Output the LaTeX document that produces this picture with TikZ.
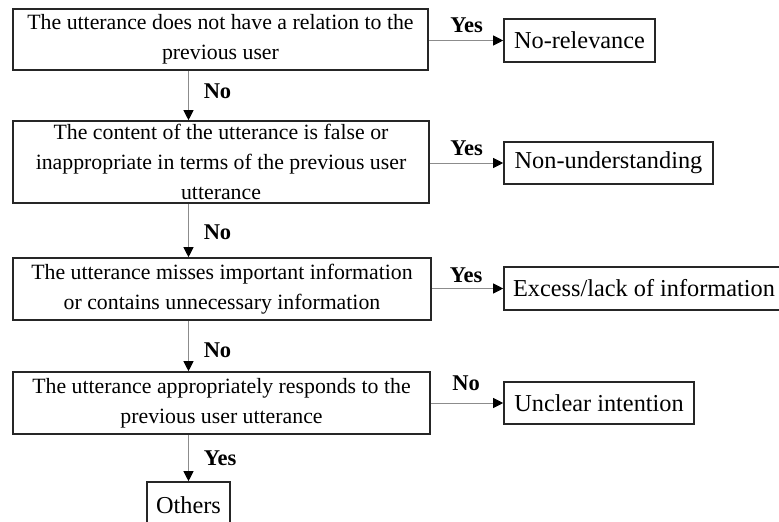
\documentclass[tikz,border=0pt]{standalone}
\usepackage{fontspec}
\setmainfont{Liberation Serif}
\usetikzlibrary{arrows.meta}
\begin{document}
\begin{tikzpicture}[x=1pt,y=-1pt,
  cond/.style={draw=black!85, line width=1.6pt, fill=white, inner sep=0pt,
    align=center, font=\fontsize{21.8}{30}\selectfont},
  result/.style={draw=black!85, line width=1.6pt, fill=white, inner sep=0pt,
    font=\fontsize{24.3}{29}\selectfont},
  lbl/.style={inner sep=0pt, font=\fontsize{22.5}{26}\selectfont\bfseries},
  arr/.style={draw=black!45, line width=1pt,
    -{Triangle[length=10pt,width=10pt,color=black]}}
]
\useasboundingbox (0,0) rectangle (779,522);
\clip (0,0) rectangle (779,522);

% decision boxes
\node[cond, minimum width=415pt, minimum height=61pt] (b1) at (220.5,39.5)
  {The utterance does not have a relation to the\\previous user};
\node[cond, minimum width=416pt, minimum height=82pt] (b2) at (221,162)
  {The content of the utterance is false or\\inappropriate in terms of the previous user\\utterance};
\node[cond, minimum width=418pt, minimum height=62pt] (b3) at (222,289)
  {The utterance misses important information\\or contains unnecessary information};
\node[cond, minimum width=417pt, minimum height=62pt] (b4) at (221.5,403)
  {The utterance appropriately responds to the\\previous user utterance};

% outcome boxes
\node[result, minimum width=151pt, minimum height=43pt] (r1) at (579.5,40.5) {No-relevance};
\node[result, minimum width=209pt, minimum height=42pt] (r2) at (608.5,163) {Non-understanding};
\node[result, minimum width=280pt, minimum height=43pt] (r3) at (644,288.5) {Excess/lack of information};
\node[result, minimum width=190pt, minimum height=42pt] (r4) at (599,403) {Unclear intention};
\node[result, minimum width=83pt, minimum height=46pt] (o) at (188.5,505) {Others};

% vertical flow
\draw[arr] (b1.south -| o.north) -- (b2.north -| o.north);
\draw[arr] (b2.south -| o.north) -- (b3.north -| o.north);
\draw[arr] (b3.south -| o.north) -- (b4.north -| o.north);
\draw[arr] (b4.south -| o.north) -- (o.north);

% horizontal branches
\draw[arr] (b1.east |- r1.west) -- (r1.west);
\draw[arr] (b2.east |- r2.west) -- (r2.west);
\draw[arr] (b3.east |- r3.west) -- (r3.west);
\draw[arr] (b4.east |- r4.west) -- (r4.west);

% branch labels
\node[lbl] (n1) at (217.5,91) {No};
\node[lbl] (n2) at (217.5,232) {No};
\node[lbl] (n3) at (217.5,350) {No};
\node[lbl] (y4) at (220,458) {Yes};
\node[lbl] (y1) at (466.5,25) {Yes};
\node[lbl] (y2) at (466.5,148) {Yes};
\node[lbl] (y3) at (466,275) {Yes};
\node[lbl] (n4) at (466,383) {No};
\end{tikzpicture}
\end{document}
